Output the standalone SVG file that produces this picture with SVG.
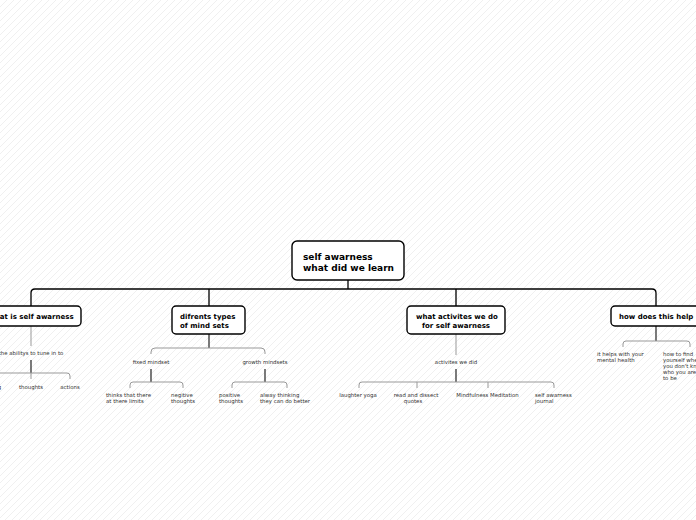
<svg xmlns="http://www.w3.org/2000/svg" width="696" height="520" viewBox="0 0 696 520">
<defs>
<pattern id="hatch" width="7" height="7" patternUnits="userSpaceOnUse">
<path d="M-1,1 L1,-1 M0,7 L7,0 M6,8 L8,6" stroke="#f0f0f0" stroke-width="1"/>
</pattern>
</defs>
<style>
.node rect{fill:#fff;stroke:#000;stroke-width:1.4}
.main{font-family:"DejaVu Sans",Verdana,sans-serif;font-weight:bold;font-size:9px;fill:#000}
.l1{font-family:"DejaVu Sans",Verdana,sans-serif;font-weight:bold;font-size:7px;fill:#000}
.lf{font-family:"DejaVu Sans",Verdana,sans-serif;font-size:5.4px;fill:#333}
.mid{text-anchor:middle}
.top{fill:none;stroke:#000;stroke-width:1.3}
.dark{fill:none;stroke:#333;stroke-width:1.3}
.gray{fill:none;stroke:#999;stroke-width:1}
</style>
<rect width="696" height="520" fill="#fff"/>
<rect width="696" height="520" fill="url(#hatch)"/>
<g id="connectors">
<path class="top" d="M348,280 V289"/>
<path class="top" d="M31,306 V293 Q31,289 35,289 H652 Q656,289 656,293 V306"/>
<path class="top" d="M209,289 V306 M456,289 V306"/>
<path class="gray" d="M31,326 V346"/>
<path class="dark" d="M31,360 V373"/>
<path class="gray" d="M-8,379 V376 Q-8,373 -5,373 H67 Q70,373 70,376 V379 M31,373 V379"/>
<path class="dark" d="M209,334 V348"/>
<path class="gray" d="M151,354 V352 Q151,348 155,348 H261 Q265,348 265,352 V354"/>
<path class="dark" d="M151,369 V382"/>
<path class="gray" d="M130,388 V385 Q130,382 133,382 H180 Q183,382 183,385 V388"/>
<path class="dark" d="M265,369 V382"/>
<path class="gray" d="M232,388 V385 Q232,382 235,382 H284 Q287,382 287,385 V388"/>
<path class="gray" d="M456,334 V355"/>
<path class="dark" d="M456,369 V382"/>
<path class="gray" d="M359,388 V385 Q359,382 362,382 H551 Q554,382 554,385 V388 M417,382 V388 M488,382 V388"/>
<path class="dark" d="M656,326 V341"/>
<path class="gray" d="M623,347 V344 Q623,341 626,341 H687 Q690,341 690,344 V347"/>
</g>
<g id="central" class="node">
<rect x="292" y="241" width="112" height="39" rx="5"/>
<text class="main" x="303" y="259.5">self awarness</text>
<text class="main" x="303" y="271">what did we learn</text>
</g>
<g id="what-is" class="node">
<rect x="-20" y="306" width="101" height="20" rx="4"/>
<text class="l1 mid" x="31" y="319">what is self awarness</text>
</g>
<g id="mindsets" class="node">
<rect x="172" y="306" width="73" height="28" rx="4"/>
<text class="l1" x="180" y="319">difrents types</text>
<text class="l1" x="180" y="327.5">of mind sets</text>
</g>
<g id="activities" class="node">
<rect x="407" y="306" width="98" height="28" rx="4"/>
<text class="l1" x="416" y="319">what activites we do</text>
<text class="l1" x="422" y="327.5">for self awarness</text>
</g>
<g id="help" class="node">
<rect x="611" y="306" width="95" height="20" rx="4"/>
<text class="l1" x="619" y="319">how does this help</text>
</g>
<g id="abilitys"><text class="lf mid" x="31" y="355">the abilitys to tune in to</text></g>
<g id="feeling"><text class="lf mid" x="-8" y="388.5">feeling</text></g>
<g id="thoughts1"><text class="lf mid" x="31" y="388.5">thoughts</text></g>
<g id="actions"><text class="lf mid" x="70" y="388.5">actions</text></g>
<g id="fixed"><text class="lf mid" x="151" y="364">fixed mindset</text></g>
<g id="growth"><text class="lf mid" x="265" y="364">growth mindsets</text></g>
<g id="limits"><text class="lf" x="106" y="397">thinks that there</text><text class="lf" x="106" y="403">at there limits</text></g>
<g id="negitive"><text class="lf" x="171" y="397">negitive</text><text class="lf" x="171" y="403">thoughts</text></g>
<g id="positive"><text class="lf" x="219" y="397">positive</text><text class="lf" x="219" y="403">thoughts</text></g>
<g id="alway"><text class="lf" x="260" y="397">alway thinking</text><text class="lf" x="260" y="403">they can do better</text></g>
<g id="activites-did"><text class="lf mid" x="456" y="364">activites we did</text></g>
<g id="yoga"><text class="lf mid" x="358" y="397">laughter yoga</text></g>
<g id="quotes"><text class="lf mid" x="416" y="397">read and dissect</text><text class="lf mid" x="413" y="403">quotes</text></g>
<g id="mindfulness"><text class="lf mid" x="487.5" y="397">Mindfulness Meditation</text></g>
<g id="journal"><text class="lf" x="535" y="397">self awarness</text><text class="lf" x="535" y="403">journal</text></g>
<g id="mental"><text class="lf" x="597" y="355.5">it helps with your</text><text class="lf" x="597" y="361.5">mental health</text></g>
<g id="find"><text class="lf" x="663" y="355.5">how to find</text><text class="lf" x="663" y="361.5">yourself when</text><text class="lf" x="663" y="367.5">you don't know</text><text class="lf" x="663" y="373.5">who you are</text><text class="lf" x="663" y="379.5">to be</text></g>
</svg>
